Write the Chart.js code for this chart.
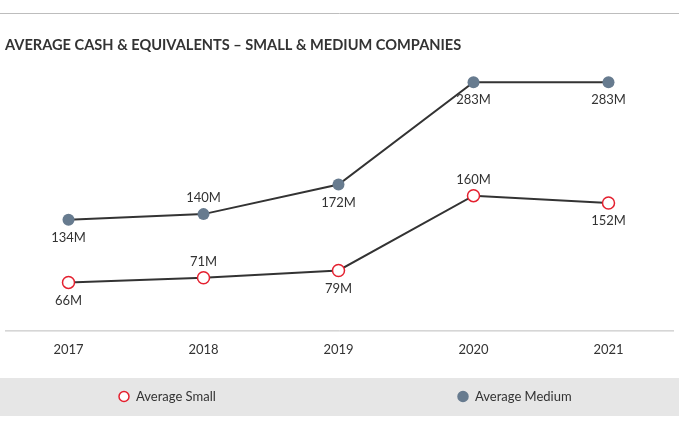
<!DOCTYPE html>
<html>
<head>
<meta charset="utf-8">
<script src="https://cdn.jsdelivr.net/npm/chart.js@4.4.1/dist/chart.umd.min.js"></script>
<style>
  html, body { margin: 0; padding: 0; background: #fff; }
  #wrap { width: 679px; height: 429px; position: relative; }
</style>
</head>
<body>
<div id="wrap"><canvas id="chart"></canvas></div>
<script>
// Data (millions)
const years = ['2017', '2018', '2019', '2020', '2021'];
const avgSmall = [66, 71, 79, 160, 152];
const avgMedium = [134, 140, 172, 283, 283];
// where each value label sits: 1 = above the point, -1 = below
const smallLabelPos = [-1, 1, -1, 1, -1];
const mediumLabelPos = [-1, 1, -1, -1, -1];

const TITLE = 'AVERAGE CASH & EQUIVALENTS \u2013 SMALL & MEDIUM COMPANIES';
const FONT = "Lato, 'Open Sans', sans-serif";
const TEXT = '#333333';
const RED = '#e4202f';
const SLATE = '#677b8f';

// Decorations: top rule, title, x baseline, grey legend band
const frame = {
  id: 'frame',
  beforeDraw(chart) {
    const { ctx, chartArea } = chart;
    ctx.save();
    ctx.fillStyle = '#fff';
    ctx.fillRect(0, 0, chart.width, chart.height);
    ctx.strokeStyle = '#bdbdbd';
    ctx.lineWidth = 1;
    ctx.beginPath();
    ctx.moveTo(0, 13.5);
    ctx.lineTo(chart.width, 13.5);
    ctx.stroke();

    ctx.fillStyle = TEXT;
    ctx.font = `700 14.6px ${FONT}`;
    ctx.textBaseline = 'middle';
    ctx.fillText(TITLE, 5, 45);

    ctx.strokeStyle = '#bdbdbd';
    ctx.beginPath();
    ctx.moveTo(5, chartArea.bottom + 0.5);
    ctx.lineTo(674, chartArea.bottom + 0.5);
    ctx.stroke();

    // legend band
    ctx.fillStyle = '#e6e6e6';
    ctx.fillRect(0, 378, chart.width, 38);
    const items = [
      { x: 124, ds: chart.data.datasets[0] },
      { x: 463, ds: chart.data.datasets[1] },
    ];
    items.forEach(it => {
      ctx.beginPath();
      ctx.arc(it.x, 396.5, 5, 0, Math.PI * 2);
      ctx.fillStyle = it.ds.pointBackgroundColor;
      ctx.fill();
      ctx.lineWidth = 1.5;
      ctx.strokeStyle = it.ds.pointBorderColor;
      ctx.stroke();
      ctx.fillStyle = TEXT;
      ctx.font = `400 13px ${FONT}`;
      ctx.textBaseline = 'middle';
      ctx.fillText(it.ds.label, it.x + 12, 397);
    });
    ctx.restore();
  }
};

// Value labels next to the points
const valueLabels = {
  id: 'valueLabels',
  afterDatasetsDraw(chart) {
    const { ctx } = chart;
    ctx.save();
    ctx.font = `400 13px ${FONT}`;
    ctx.fillStyle = TEXT;
    ctx.textAlign = 'center';
    ctx.textBaseline = 'middle';
    chart.data.datasets.forEach((ds, i) => {
      const meta = chart.getDatasetMeta(i);
      meta.data.forEach((pt, j) => {
        const dy = ds.labelPos[j] > 0 ? -16 : 18;
        ctx.fillText(ds.data[j] + 'M', pt.x, pt.y + dy);
      });
    });
    ctx.restore();
  }
};

new Chart(document.getElementById('chart'), {
  type: 'line',
  data: {
    labels: years,
    datasets: [
      {
        label: 'Average Small',
        data: avgSmall,
        labelPos: smallLabelPos,
        borderColor: '#333333',
        borderWidth: 2,
        pointRadius: 6,
        pointBorderWidth: 1.5,
        pointBackgroundColor: '#ffffff',
        pointBorderColor: RED,
        tension: 0,
      },
      {
        label: 'Average Medium',
        data: avgMedium,
        labelPos: mediumLabelPos,
        borderColor: '#333333',
        borderWidth: 2,
        pointRadius: 6,
        pointBorderWidth: 0,
        pointBackgroundColor: SLATE,
        pointBorderColor: SLATE,
        tension: 0,
      }
    ]
  },
  options: {
    responsive: true,
    maintainAspectRatio: false,
    animation: false,
    layout: { autoPadding: false, padding: { top: 60, bottom: 59, left: 1, right: 3 } },
    scales: {
      x: {
        offset: true,
        grid: { display: false, drawTicks: false },
        border: { display: false },
        ticks: { color: TEXT, font: { family: FONT, size: 13 }, padding: 12 },
      },
      y: {
        display: false,
        min: 14,
        max: 307,
      }
    },
    plugins: {
      legend: { display: false },
      title: { display: false },
      tooltip: { enabled: false },
    }
  },
  plugins: [frame, valueLabels]
});
</script>
</body>
</html>
